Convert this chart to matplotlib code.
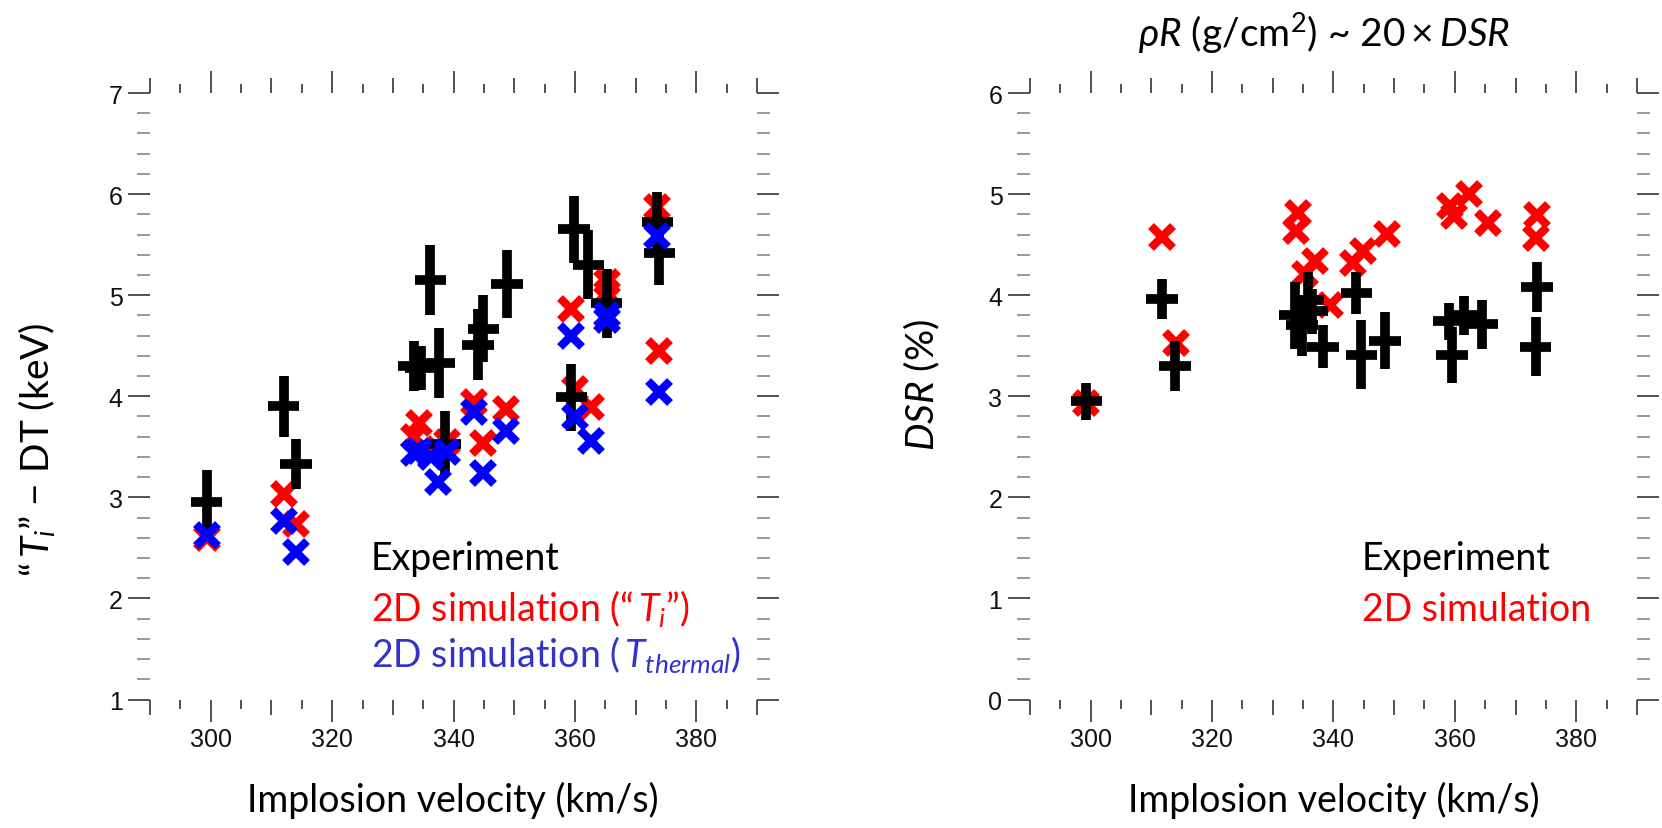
import numpy as np
import matplotlib
matplotlib.use('Agg')
import matplotlib.pyplot as plt
from matplotlib.ticker import MultipleLocator

plt.rcParams['font.family'] = ['Lato', 'DejaVu Sans']
plt.rcParams['mathtext.fontset'] = 'custom'
plt.rcParams['mathtext.rm'] = 'Lato'
plt.rcParams['mathtext.it'] = 'Lato:italic'
plt.rcParams['mathtext.bf'] = 'Lato:bold'

# left panel: "Ti" - DT (keV) vs implosion velocity (km/s)
exp_v_left = [299.3, 312.0, 314.0, 333.5, 334.6, 336.2, 337.6, 338.6, 344.0, 344.9,
              348.8, 359.4, 359.8, 362.2, 365.2, 373.6, 373.9]
exp_ti = [2.95, 3.90, 3.33, 4.30, 4.28, 5.15, 4.33, 3.53, 4.51, 4.67,
          5.11, 3.99, 5.65, 5.30, 4.92, 5.72, 5.42]
exp_ti_err = [0.32, 0.30, 0.25, 0.25, 0.22, 0.35, 0.35, 0.32, 0.35, 0.33,
              0.34, 0.33, 0.33, 0.34, 0.34, 0.30, 0.32]

sim_v_left = [299.3, 312.0, 314.0, 333.5, 334.3, 336.3, 337.4, 339.0, 343.4, 344.9,
              348.7, 359.4, 360.0, 362.7, 365.3, 365.3, 373.5, 373.9]
sim_ti = [2.60, 3.03, 2.74, 3.60, 3.74, 3.42, 3.48, 3.55, 3.94, 3.54,
          3.87, 4.86, 4.07, 3.89, 5.13, 5.02, 5.87, 4.45]
sim_thermal = [2.63, 2.77, 2.46, 3.44, 3.46, 3.40, 3.15, 3.45, 3.84, 3.24,
               3.66, 4.60, 3.79, 3.56, 4.75, 4.80, 5.59, 4.04]

# right panel: DSR (%) vs implosion velocity
exp_v_right = [299.3, 311.8, 313.9, 333.7, 334.8, 335.8, 336.5, 338.3, 343.8, 344.6,
               348.5, 359.0, 359.5, 361.5, 364.5, 373.5, 373.3]
exp_dsr = [2.95, 3.96, 3.30, 3.80, 3.70, 3.95, 3.84, 3.49, 4.02, 3.41,
           3.55, 3.74, 3.41, 3.80, 3.71, 4.08, 3.49]
exp_dsr_err = [0.18, 0.20, 0.25, 0.33, 0.30, 0.28, 0.22, 0.21, 0.21, 0.34,
               0.28, 0.18, 0.28, 0.19, 0.24, 0.25, 0.29]

sim_v_right = [299.3, 311.8, 314.0, 333.9, 334.2, 335.3, 337.0, 339.4, 343.2, 344.8,
               348.8, 359.2, 359.8, 362.3, 365.4, 373.3, 373.5]
sim_dsr = [2.93, 4.58, 3.53, 4.63, 4.81, 4.21, 4.34, 3.90, 4.32, 4.44,
           4.61, 4.88, 4.78, 5.00, 4.71, 4.57, 4.79]

RED = '#ff0000'
BLUE = '#0000ff'
BLUE_TXT = '#3333cc'
HALF_WIDTH = 2.6  # half length of the horizontal arm of the "+" (km/s)

fig = plt.figure(figsize=(16.62, 8.29), dpi=100)
ax1 = fig.add_axes([0.0903, 0.155, 0.3652, 0.7316])
ax2 = fig.add_axes([0.6197, 0.155, 0.3652, 0.7316])


def idl_axes(ax, ylo, yhi):
    for s in ax.spines.values():
        s.set_visible(False)
    ax.set_xlim(290, 390)
    ax.set_ylim(ylo, yhi)

    locs = np.arange(290, 391, 5)
    ax.set_xticks(locs)
    ax.set_xticklabels([str(v) if v % 20 == 0 else '' for v in locs])
    ax.yaxis.set_major_locator(MultipleLocator(1))
    ax.yaxis.set_minor_locator(MultipleLocator(0.2))

    ax.tick_params(which='both', direction='out', top=True, right=True,
                   labelfontfamily='Liberation Sans', labelsize=18,
                   labelcolor='#111111', pad=4)
    ax.tick_params(which='major', length=15.8, width=1.2, color='#333333')
    ax.tick_params(which='minor', length=9.4, width=1.2, color='#888888')

    # three tick lengths on the x axes (20 / 10 / 5 km/s)
    for v, t in zip(locs, ax.xaxis.get_major_ticks()):
        if v % 20 == 0:
            size = 15.8
        elif v % 10 == 0:
            size = 10.8
        else:
            size = 6.5
        t.tick1line.set_markersize(size)
        t.tick2line.set_markersize(size)
        if v % 20 != 0:
            t.tick1line.set_color('#666666')
            t.tick2line.set_color('#666666')


idl_axes(ax1, 1, 7)
idl_axes(ax2, 0, 6)

# left panel
ax1.plot(sim_v_left, sim_ti, linestyle='none', marker='x', ms=16, mew=6, color=RED)
ax1.errorbar(exp_v_left, exp_ti, yerr=exp_ti_err, xerr=HALF_WIDTH, fmt='none',
             ecolor='black', elinewidth=7, capsize=0)
ax1.plot(sim_v_left, sim_thermal, linestyle='none', marker='x', ms=16, mew=6, color=BLUE)

ax1.text(326.4, 2.29, 'Experiment', color='black', fontsize=27)
ax1.text(326.4, 1.79, '2D simulation (“$\\,T_i$”)', color=RED, fontsize=27)
ax1.text(326.4, 1.33, '2D simulation ($\\,T_{thermal}$)', color=BLUE_TXT, fontsize=27)

# right panel
ax2.plot(sim_v_right, sim_dsr, linestyle='none', marker='x', ms=16, mew=6, color=RED)
ax2.errorbar(exp_v_right, exp_dsr, yerr=exp_dsr_err, xerr=HALF_WIDTH, fmt='none',
             ecolor='black', elinewidth=7, capsize=0)

ax2.text(344.7, 1.29, 'Experiment', color='black', fontsize=27)
ax2.text(344.7, 0.79, '2D simulation', color=RED, fontsize=27)

# axis titles
fig.text(453 / 1662, 1 - 800 / 829, 'Implosion velocity (km/s)', fontsize=27,
         ha='center', va='center')
fig.text(1334 / 1662, 1 - 800 / 829, 'Implosion velocity (km/s)', fontsize=27,
         ha='center', va='center')
fig.text(37 / 1662, 1 - 450 / 829, '“$\\,T_i$” − DT (keV)', fontsize=28,
         rotation=90, ha='center', va='center')
fig.text(922 / 1662, 1 - 385 / 829, '$DSR$ (%)', fontsize=28,
         rotation=90, ha='center', va='center')
fig.text(1324 / 1662, 1 - 33 / 829, r'$\rho R$ (g/cm$^2$) ~ $\mathit{20}\times DSR$',
         fontsize=28, ha='center', va='center')

fig.savefig('out.png', dpi=100)
